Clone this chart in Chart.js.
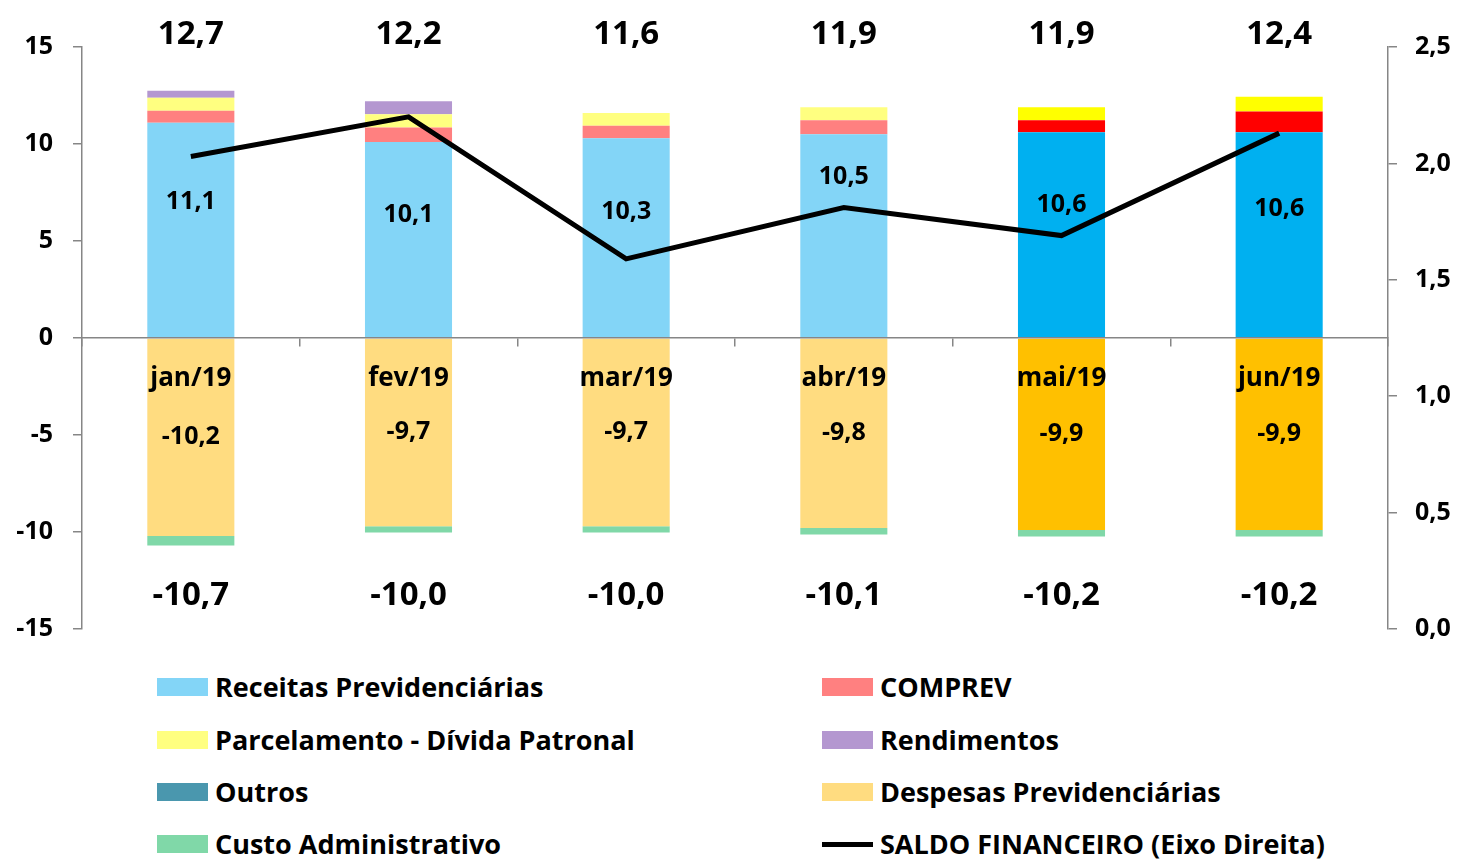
<!DOCTYPE html>
<html>
<head>
<meta charset="utf-8">
<script src="https://cdn.jsdelivr.net/npm/chart.js@4.4.0/dist/chart.umd.min.js"></script>
<style>
  body { margin: 0; background: #fff; width: 1462px; height: 860px; overflow: hidden; position: relative; font-family: "Open Sans", Lato, sans-serif; }
  #grafico { position: absolute; left: 0; top: 0; }
  .leg { position: absolute; font-weight: bold; font-size: 27px; color: #000; white-space: nowrap; line-height: 30px; }
  .leg span.box { position: absolute; left: -58px; top: 6px; width: 51px; height: 18px; }
  .leg span.linha { position: absolute; left: -58px; top: 13px; width: 51px; height: 5px; background: #000; }
</style>
</head>
<body>
<canvas id="grafico" width="1462" height="664"></canvas>
<div id="legenda"></div>
<script>
// dados (R$ bilhoes)
const categorias = ['jan/19', 'fev/19', 'mar/19', 'abr/19', 'mai/19', 'jun/19'];
const receitas = [11.1, 10.1, 10.3, 10.5, 10.6, 10.6];
const comprev = [0.62, 0.75, 0.64, 0.72, 0.62, 1.07];
const parcelamento = [0.66, 0.68, 0.66, 0.68, 0.68, 0.76];
const rendimentos = [0.36, 0.68, 0, 0, 0, 0];
const outros = [0, 0, 0, 0, 0, 0];
const despesas = [-10.2, -9.7, -9.7, -9.8, -9.9, -9.9];
const custoAdm = [-0.5, -0.33, -0.32, -0.33, -0.33, -0.33];
const saldo = [2.03, 2.20, 1.59, 1.81, 1.69, 2.13];
const ticksEsq = [-15, -10, -5, 0, 5, 10, 15];
const ticksDir = [0, 0.5, 1, 1.5, 2, 2.5];

const fmt = v => v.toFixed(1).replace('.', ',');
// os dois ultimos meses aparecem com cores mais fortes
const cores = (claro, escuro) => categorias.map((c, i) => i < 4 ? claro : escuro);

const fonte = '"Open Sans", Lato, sans-serif';
Chart.defaults.font.family = fonte;
Chart.defaults.color = '#000';

const series = [
  { label: 'Receitas Previdenciárias', data: receitas, backgroundColor: cores('#83d5f7', '#00b0f0'), legenda: '#83d5f7' },
  { label: 'COMPREV', data: comprev, backgroundColor: cores('#ff8080', '#ff0000'), legenda: '#ff8080' },
  { label: 'Parcelamento - Dívida Patronal', data: parcelamento, backgroundColor: cores('#ffff80', '#ffff00'), legenda: '#ffff80' },
  { label: 'Rendimentos', data: rendimentos, backgroundColor: '#b497d0', legenda: '#b497d0' },
  { label: 'Outros', data: outros, backgroundColor: '#4a97ae', legenda: '#4a97ae' },
  { label: 'Despesas Previdenciárias', data: despesas, backgroundColor: cores('#ffdc80', '#ffc000'), legenda: '#ffdc80' },
  { label: 'Custo Administrativo', data: custoAdm, backgroundColor: '#80d8a8', legenda: '#80d8a8' }
];

const datasets = series.map(s => ({
  type: 'bar',
  label: s.label,
  data: s.data,
  backgroundColor: s.backgroundColor,
  borderWidth: 0,
  yAxisID: 'y',
  order: 1,
  barPercentage: 0.4,
  categoryPercentage: 1
}));
datasets.push({
  type: 'line',
  label: 'SALDO FINANCEIRO (Eixo Direita)',
  data: saldo,
  borderColor: '#000',
  borderWidth: 5,
  pointRadius: 0,
  tension: 0,
  yAxisID: 'y1',
  order: 0
});

// rotulos de valores e totais
const rotulos = {
  id: 'rotulos',
  afterDatasetsDraw(chart) {
    const ctx = chart.ctx;
    const y = chart.scales.y;
    const y1 = chart.scales.y1;
    const area = chart.chartArea;
    const barras = chart.getDatasetMeta(0).data;
    ctx.save();
    ctx.fillStyle = '#000';
    ctx.textAlign = 'center';
    ctx.textBaseline = 'middle';
    categorias.forEach((c, i) => {
      const x = barras[i].x;
      const pos = receitas[i] + comprev[i] + parcelamento[i] + rendimentos[i] + outros[i];
      const neg = despesas[i] + custoAdm[i];
      ctx.font = 'bold 33px ' + fonte;
      ctx.fillText(fmt(pos), x, area.top - 12);
      ctx.fillText(fmt(neg), x, area.bottom - 33);
      ctx.font = 'bold 25px ' + fonte;
      // rotulo da receita sobe quando cairia em cima da linha do saldo
      let ly = y.getPixelForValue(receitas[i] * 0.63);
      const linhaY = y1.getPixelForValue(saldo[i]);
      if (Math.abs(ly - linhaY) < 30) ly = linhaY - 31;
      ctx.fillText(fmt(receitas[i]), x, ly);
      ctx.fillText(fmt(despesas[i]), x, y.getPixelForValue(despesas[i] * 0.5));
    });
    ctx.restore();
  }
};

new Chart(document.getElementById('grafico'), {
  data: { labels: categorias, datasets: datasets },
  options: {
    responsive: false,
    animation: false,
    layout: { padding: { top: 47, bottom: 24, left: 0, right: 0 } },
    plugins: { legend: { display: false }, tooltip: { enabled: false } },
    scales: {
      x: {
        stacked: true,
        position: { y: 0 },
        offset: true,
        grid: { display: true, offset: true, drawOnChartArea: false, drawTicks: true, tickLength: 8, color: '#868686', lineWidth: 1.5 },
        border: { display: true, color: '#868686', width: 1.5, z: 1 },
        ticks: { font: { size: 26, weight: 'bold' }, padding: 17, color: '#000', z: 1 }
      },
      y: {
        stacked: true,
        position: 'left',
        min: -15,
        max: 15,
        afterBuildTicks: s => { s.ticks = ticksEsq.map(v => ({ value: v })); },
        afterFit: s => { s.width = 82; },
        grid: { drawOnChartArea: false, tickLength: 9, color: '#868686', lineWidth: 1.5 },
        border: { color: '#868686', width: 1.5 },
        ticks: { font: { size: 25, weight: 'bold' }, padding: 20, color: '#000' }
      },
      y1: {
        position: 'right',
        min: 0,
        max: 2.5,
        afterBuildTicks: s => { s.ticks = ticksDir.map(v => ({ value: v })); },
        afterFit: s => { s.width = 74; },
        grid: { drawOnChartArea: false, tickLength: 9, color: '#868686', lineWidth: 1.5 },
        border: { color: '#868686', width: 1.5 },
        ticks: { font: { size: 25, weight: 'bold' }, padding: 18, color: '#000', callback: v => fmt(v) }
      }
    }
  },
  plugins: [rotulos]
});

// legenda em duas colunas
const legenda = document.getElementById('legenda');
const colX = [215, 880];
const linhaY = [672, 725, 777, 829];
const itens = series.map(s => ({ label: s.label, cor: s.legenda }));
itens.push({ label: 'SALDO FINANCEIRO (Eixo Direita)', linha: true });
itens.forEach((it, i) => {
  const d = document.createElement('div');
  d.className = 'leg';
  d.style.left = colX[i % 2] + 'px';
  d.style.top = linhaY[Math.floor(i / 2)] + 'px';
  const m = document.createElement('span');
  if (it.linha) {
    m.className = 'linha';
  } else {
    m.className = 'box';
    m.style.background = it.cor;
  }
  d.appendChild(m);
  d.appendChild(document.createTextNode(it.label));
  legenda.appendChild(d);
});
</script>
</body>
</html>
